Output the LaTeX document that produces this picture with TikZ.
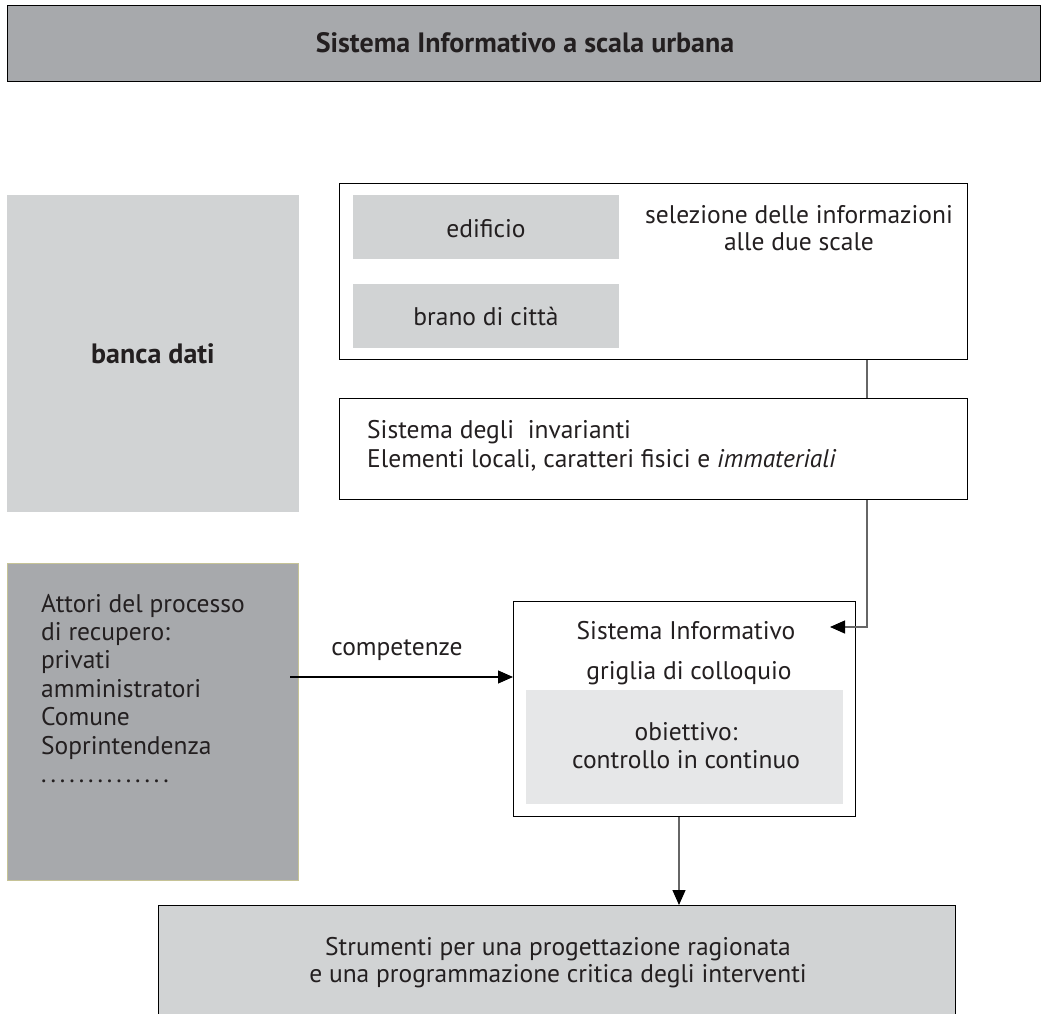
\documentclass[tikz,border=0pt]{standalone}
\usepackage{fontspec}
\setmainfont{PT Sans}
\usetikzlibrary{arrows.meta}
\definecolor{dgray}{HTML}{A7A9AC}
\definecolor{mgray}{HTML}{D1D3D4}
\definecolor{lgray}{HTML}{E6E7E8}
\definecolor{ink}{HTML}{231F20}
\newcommand\onedot{\makebox[9.4pt][l]{.}}
\begin{document}
\begin{tikzpicture}[x=1pt,y=-1pt,
  ln/.style={font=\fontsize{25.5}{28}\selectfont, text=ink, inner sep=0pt, anchor=base},
  lnl/.style={ln, anchor=base west},
  bln/.style={font=\fontsize{28}{30}\selectfont\bfseries, text=ink, inner sep=0pt, anchor=base},
  frame/.style={draw=black, line width=1.3pt, anchor=north west, inner sep=0pt},
  plain/.style={anchor=north west, inner sep=0pt},
  conn/.style={draw=black!60, line width=1.3pt},
  arr/.style={draw=black, line width=1.1pt, -{Triangle[length=15pt,width=13pt]}},
  arrg/.style={draw=black!60, line width=1.3pt, -{Triangle[length=15pt,width=13pt,fill=black,color=black]}}]
\useasboundingbox (0,0) rectangle (1045,1014);
\clip (0,0) rectangle (1045,1014);

% top title box
\node[frame, fill=dgray, minimum width=1033pt, minimum height=76pt] (top) at (7,5) {};
\node[bln] (toptxt) at (525,53) {Sistema Informativo a scala urbana};

% banca dati
\node[plain, fill=mgray, minimum width=292pt, minimum height=317pt] (banca) at (7,195) {};
\node[bln] (bancatxt) at (153,363) {banca dati};

% selection box
\node[frame, fill=white, minimum width=628pt, minimum height=176pt] (sel) at (339,183) {};
\node[plain, fill=mgray, minimum width=266pt, minimum height=64pt] (edif) at (353,195) {};
\node[ln] (ediftxt) at (486,237) {edificio};
\node[plain, fill=mgray, minimum width=266pt, minimum height=64pt] (brano) at (353,284) {};
\node[ln] (branotxt) at (486,325) {brano di città};
\node[ln] (sel1) at (799,223) {selezione delle informazioni};
\node[ln] (sel2) at (799,250) {alle due scale};

% invarianti box
\node[frame, fill=white, minimum width=628pt, minimum height=101pt] (inv) at (339,398) {};
\node[lnl] (inv1) at (367,438) {Sistema degli\ \ invarianti};
\node[lnl] (inv2) at (367,467) {Elementi locali, caratteri fisici e \textit{immateriali}};

% attori box
\node[plain, fill=dgray, draw=yellow!25!dgray, line width=0.6pt, minimum width=291pt, minimum height=317pt] (att) at (7,563) {};
\node[lnl] (at1) at (41,612) {Attori del processo};
\node[lnl] (at2) at (41,640) {di recupero:};
\node[lnl] (at3) at (41,668) {privati};
\node[lnl] (at4) at (41,697) {amministratori};
\node[lnl] (at5) at (41,725) {Comune};
\node[lnl] (at6) at (41,754) {Soprintendenza};
\node[lnl] (at7) at (41,782) {\onedot\onedot\onedot\onedot\onedot\onedot\onedot\onedot\onedot\onedot\onedot\onedot\onedot\onedot};

% sistema informativo box
\node[frame, fill=white, minimum width=342pt, minimum height=215pt] (si) at (513,601) {};
\node[ln] (si1) at (686,639) {Sistema Informativo};
\node[ln] (si2) at (689,679) {griglia di colloquio};
\node[plain, fill=lgray, minimum width=317pt, minimum height=114pt] (obj) at (526,690) {};
\node[ln] (obj1) at (686,740) {obiettivo:};
\node[ln] (obj2) at (686,768) {controllo in continuo};

% bottom box
\node[frame, fill=mgray, minimum width=797pt, minimum height=130pt] (bot) at (158,905) {};
\node[ln] (bot1) at (558,955) {Strumenti per una progettazione ragionata};
\node[ln] (bot2) at (558,982) {e una programmazione critica degli interventi};

% label
\node[ln] (comp) at (397,655) {competenze};

% connectors
\coordinate (cx) at (867,0);
\coordinate (tipsi) at (830,627);
\coordinate (a0) at (290,677);
\coordinate (dx) at (679,0);
\draw[conn] (sel.south -| cx) -- (inv.north -| cx);
\draw[arrg] (inv.south -| cx) |- (tipsi);
\draw[arr] (a0) -- (a0 -| si.west);
\draw[arrg] (si.south -| dx) -- (bot.north -| dx);
\end{tikzpicture}
\end{document}
